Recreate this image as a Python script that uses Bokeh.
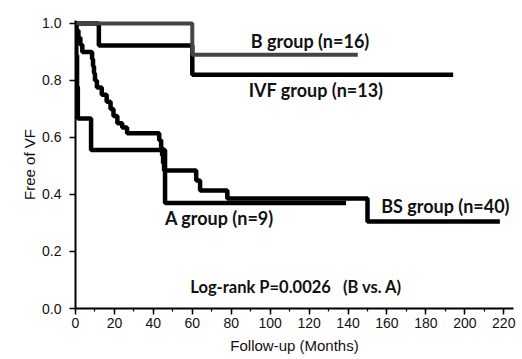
from bokeh.plotting import figure
from bokeh.models import Range1d, SingleIntervalTicker, FixedTicker, PrintfTickFormatter
from bokeh.core.properties import value
from bokeh.embed import file_html
from bokeh.resources import INLINE

# ---- data ----
b_t = [0, 60, 145]
b_s = [1.0, 0.89, 0.89]

ivf_t = [0, 12, 60, 194]
ivf_s = [1.0, 0.923, 0.82, 0.82]

a_t = [0, 0.4, 0.8, 1.2, 8, 46, 139]
a_s = [1.0, 0.889, 0.778, 0.667, 0.556, 0.37, 0.37]

bs_t = [0, 0.5, 1.5, 2.5, 3.5, 8.5, 9, 9.5, 10, 11, 13.5, 16, 18, 19.5, 21.5, 24, 26.5,
        43, 44, 44.5, 45, 45.5, 62, 64, 78, 150, 218]
bs_s = [1.0, 0.975, 0.95, 0.925, 0.90, 0.875, 0.85, 0.825, 0.80, 0.775, 0.75, 0.725, 0.70,
        0.675, 0.65, 0.635, 0.615, 0.59, 0.565, 0.537, 0.51, 0.484, 0.449, 0.414, 0.386, 0.305, 0.305]

label_texts = ["B group (n=16)", "IVF group (n=13)", "A group (n=9)", "BS group (n=40)"]
label_x = [90, 89, 46, 157]
label_y = [0.94, 0.765, 0.316, 0.361]

stat_text = "Log-rank P=0.0026\u00a0\u00a0 (B vs. A)"

x_ticks_interval = 20
y_ticks = [0.0, 0.2, 0.4, 0.6, 0.8, 1.0]

# ---- figure ----
p = figure(width=522, height=359, output_backend="svg", toolbar_location=None,
           x_range=Range1d(0, 225), y_range=Range1d(0, 1.0105),
           min_border_left=75, min_border_right=9, min_border_top=20, min_border_bottom=51)
p.outline_line_color = None
p.xgrid.grid_line_color = None
p.ygrid.grid_line_color = None
p.background_fill_color = "white"

lw = 4.5
p.step(ivf_t, ivf_s, mode="after", line_color="black", line_width=lw)
p.step(a_t, a_s, mode="after", line_color="black", line_width=lw)
p.step(bs_t, bs_s, mode="after", line_color="black", line_width=lw)
p.step(b_t, b_s, mode="after", line_color="#444444", line_width=4)

p.text(x=label_x, y=label_y, text=label_texts, text_font=value("Lato"),
       text_font_style="bold", text_font_size="18px", text_baseline="middle",
       text_align="left", text_color="#111111")
p.text(x=[59], y=[0.074], text=[stat_text], text_font=value("Lato"),
       text_font_style="bold", text_font_size="16.5px", text_baseline="middle",
       text_align="left", text_color="#111111")

# axes
p.xaxis.ticker = SingleIntervalTicker(interval=x_ticks_interval, num_minor_ticks=2)
p.yaxis.ticker = FixedTicker(ticks=y_ticks)
p.yaxis.formatter = PrintfTickFormatter(format="%.1f")
p.xaxis.axis_label = "Follow-up (Months)"
p.yaxis.axis_label = "Free of VF"
for ax in (p.xaxis, p.yaxis):
    ax.axis_line_width = 2
    ax.axis_line_color = "black"
    ax.major_tick_line_width = 1.5
    ax.major_tick_out = 6
    ax.major_tick_in = 0
    ax.minor_tick_out = 3
    ax.minor_tick_in = 0
    ax.minor_tick_line_width = 1.2
    ax.major_label_text_font = "Liberation Sans"
    ax.major_label_text_font_size = "14px"
    ax.major_label_text_color = "#111111"
    ax.axis_label_text_font = "Liberation Sans"
    ax.axis_label_text_font_size = "15px"
    ax.axis_label_text_font_style = "normal"
    ax.axis_label_text_color = "#111111"
p.yaxis.minor_tick_line_color = None
p.xaxis.major_label_standoff = 3
p.yaxis.major_label_standoff = 8
p.xaxis.axis_label_standoff = 6
p.yaxis.axis_label_standoff = 1

open("out.html", "w").write(file_html(p, INLINE))
